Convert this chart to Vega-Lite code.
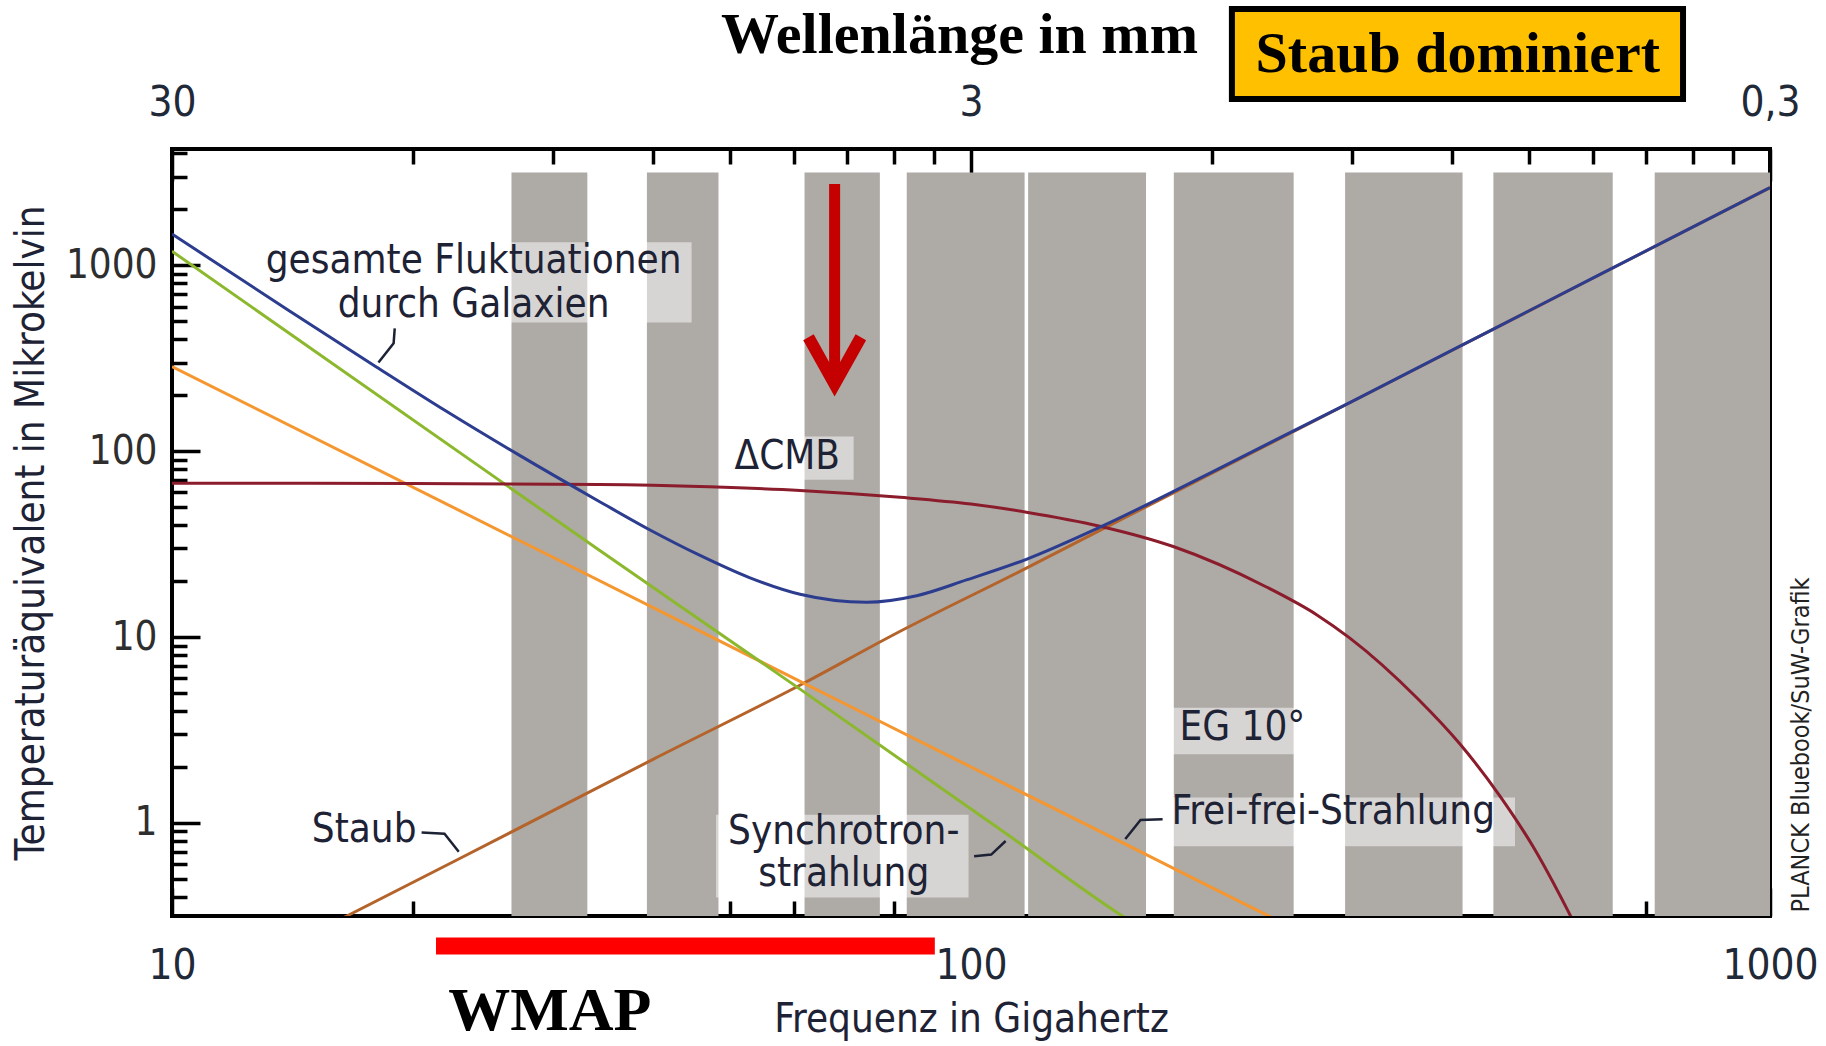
{
  "$schema": "https://vega.github.io/schema/vega-lite/v6.json",
  "width": 1598,
  "height": 767,
  "autosize": {"type": "none"},
  "padding": {"left": 172, "top": 149, "right": 56, "bottom": 130},
  "background": "white",
  "config": {
    "view": {"stroke": "#000000", "strokeWidth": 4},
    "axis": {"domain": false, "grid": false, "ticks": true, "tickColor": "#000000", "tickWidth": 3.5, "labelOverlap": false, "labelFlush": false, "zindex": 1}
  },
  "resolve": {"axis": {"x": "independent", "y": "independent"}},
  "datasets": {
    "bands": [
      {"lo": 26.6, "hi": 33.1},
      {"lo": 39.3, "hi": 48.3},
      {"lo": 61.9, "hi": 76.9},
      {"lo": 83.1, "hi": 116.7},
      {"lo": 117.9, "hi": 165.6},
      {"lo": 179.4, "hi": 253.4},
      {"lo": 293.9, "hi": 412.3},
      {"lo": 450.6, "hi": 635.6},
      {"lo": 717.3, "hi": 1000}
    ],
    "boxes": [
      {"f1": 12.8, "f2": 44.7, "T1": 492.8, "T2": 1332},
      {"f1": 49.1, "f2": 71.3, "T1": 70.3, "T2": 120},
      {"f1": 47.96, "f2": 99.3, "T1": 0.397, "T2": 1.106},
      {"f1": 177.6, "f2": 265.6, "T1": 2.34, "T2": 4.17},
      {"f1": 171.7, "f2": 479.6, "T1": 0.749, "T2": 1.373}
    ],
    "curves": [
      {"series": "1 Staub", "f": 15.0, "T": 0.255},
      {"series": "1 Staub", "f": 16.55, "T": 0.316},
      {"series": "1 Staub", "f": 22.85, "T": 0.64},
      {"series": "1 Staub", "f": 40, "T": 2.2},
      {"series": "1 Staub", "f": 62, "T": 5.7},
      {"series": "1 Staub", "f": 80, "T": 10.3},
      {"series": "1 Staub", "f": 117.3, "T": 23.5},
      {"series": "1 Staub", "f": 145, "T": 37.5},
      {"series": "1 Staub", "f": 200, "T": 76},
      {"series": "1 Staub", "f": 300, "T": 185},
      {"series": "1 Staub", "f": 450, "T": 452},
      {"series": "1 Staub", "f": 600, "T": 852},
      {"series": "1 Staub", "f": 800, "T": 1604},
      {"series": "1 Staub", "f": 1000, "T": 2615},
      {"series": "2 Frei-frei", "f": 10, "T": 285},
      {"series": "2 Frei-frei", "f": 28.7, "T": 29.5},
      {"series": "2 Frei-frei", "f": 62, "T": 5.6},
      {"series": "2 Frei-frei", "f": 100, "T": 2.0},
      {"series": "2 Frei-frei", "f": 156, "T": 0.77},
      {"series": "2 Frei-frei", "f": 236, "T": 0.316},
      {"series": "2 Frei-frei", "f": 250, "T": 0.28},
      {"series": "3 Synchrotron", "f": 10, "T": 1190},
      {"series": "3 Synchrotron", "f": 34.2, "T": 29.5},
      {"series": "3 Synchrotron", "f": 61.1, "T": 5.25},
      {"series": "3 Synchrotron", "f": 110.5, "T": 0.88},
      {"series": "3 Synchrotron", "f": 154, "T": 0.32},
      {"series": "3 Synchrotron", "f": 165, "T": 0.265},
      {"series": "4 CMB", "f": 10, "T": 67.3},
      {"series": "4 CMB", "f": 20, "T": 67.0},
      {"series": "4 CMB", "f": 34.3, "T": 66.2},
      {"series": "4 CMB", "f": 47, "T": 64.3},
      {"series": "4 CMB", "f": 61.1, "T": 61.5},
      {"series": "4 CMB", "f": 81.5, "T": 56.5},
      {"series": "4 CMB", "f": 100, "T": 52},
      {"series": "4 CMB", "f": 117.3, "T": 47},
      {"series": "4 CMB", "f": 145, "T": 39.5},
      {"series": "4 CMB", "f": 179.1, "T": 30.7},
      {"series": "4 CMB", "f": 234.3, "T": 18.6},
      {"series": "4 CMB", "f": 270.7, "T": 13.2},
      {"series": "4 CMB", "f": 297.7, "T": 9.9},
      {"series": "4 CMB", "f": 361.6, "T": 4.7},
      {"series": "4 CMB", "f": 409.5, "T": 2.65},
      {"series": "4 CMB", "f": 459, "T": 1.4},
      {"series": "4 CMB", "f": 505.8, "T": 0.74},
      {"series": "4 CMB", "f": 557, "T": 0.345},
      {"series": "4 CMB", "f": 590, "T": 0.21},
      {"series": "5 Gesamt", "f": 10, "T": 1473},
      {"series": "5 Gesamt", "f": 14, "T": 572},
      {"series": "5 Gesamt", "f": 18, "T": 285},
      {"series": "5 Gesamt", "f": 22, "T": 165},
      {"series": "5 Gesamt", "f": 27, "T": 97},
      {"series": "5 Gesamt", "f": 34.3, "T": 53.5},
      {"series": "5 Gesamt", "f": 39.6, "T": 37.8},
      {"series": "5 Gesamt", "f": 45.8, "T": 27.5},
      {"series": "5 Gesamt", "f": 52.8, "T": 20.9},
      {"series": "5 Gesamt", "f": 61.1, "T": 17.0},
      {"series": "5 Gesamt", "f": 74, "T": 15.4},
      {"series": "5 Gesamt", "f": 85.5, "T": 16.7},
      {"series": "5 Gesamt", "f": 98.7, "T": 20.3},
      {"series": "5 Gesamt", "f": 117.3, "T": 26.2},
      {"series": "5 Gesamt", "f": 145, "T": 39.0},
      {"series": "5 Gesamt", "f": 200, "T": 77},
      {"series": "5 Gesamt", "f": 300, "T": 185.5},
      {"series": "5 Gesamt", "f": 450, "T": 452.5},
      {"series": "5 Gesamt", "f": 600, "T": 853},
      {"series": "5 Gesamt", "f": 800, "T": 1605},
      {"series": "5 Gesamt", "f": 1000, "T": 2616}
    ],
    "leaders": [
      {"id": "g", "k": 1, "f": 19.0, "T": 458},
      {"id": "g", "k": 2, "f": 18.94, "T": 381},
      {"id": "g", "k": 3, "f": 18.13, "T": 300},
      {"id": "s", "k": 1, "f": 20.53, "T": 0.89},
      {"id": "s", "k": 2, "f": 21.93, "T": 0.876},
      {"id": "s", "k": 3, "f": 22.85, "T": 0.70},
      {"id": "y", "k": 1, "f": 100.9, "T": 0.662},
      {"id": "y", "k": 2, "f": 106.0, "T": 0.676},
      {"id": "y", "k": 3, "f": 110.5, "T": 0.8},
      {"id": "ff", "k": 1, "f": 156, "T": 0.82},
      {"id": "ff", "k": 2, "f": 163, "T": 1.037},
      {"id": "ff", "k": 3, "f": 173.7, "T": 1.046}
    ],
    "labels": [
      {"text": "gesamte Fluktuationen", "f": 23.85, "T": 1058},
      {"text": "durch Galaxien", "f": 23.85, "T": 612},
      {"text": "ΔCMB", "f": 58.9, "T": 92.5},
      {"text": "Synchrotron-", "f": 69.3, "T": 0.891},
      {"text": "strahlung", "f": 69.3, "T": 0.53},
      {"text": "Staub", "f": 17.4, "T": 0.917},
      {"text": "EG 10°", "f": 218.6, "T": 3.26},
      {"text": "Frei-frei-Strahlung", "f": 284, "T": 1.14}
    ]
  },
  "layer": [
    {
      "data": {"name": "bands"},
      "mark": {"type": "rect", "color": "#aeaaa6"},
      "encoding": {
        "x": {
          "field": "lo", "type": "quantitative",
          "scale": {"type": "log", "domain": [10, 1000], "nice": false},
          "axis": {
            "orient": "top",
            "values": [10, 20, 30, 40, 50, 60, 70, 80, 90, 100, 200, 300, 400, 500, 600, 700, 800, 900, 1000],
            "tickSize": {"condition": {"test": "datum.value == 10 || datum.value == 100 || datum.value == 1000", "value": -32}, "value": -15},
            "labelExpr": "datum.value == 10 ? '30' : datum.value == 100 ? '3' : datum.value == 1000 ? '0,3' : ''",
            "labelFont": "DejaVu Sans Condensed",
            "labelFontSize": 42,
            "labelColor": "#1f2937",
            "labelPadding": 79,
            "labelBaseline": "middle",
            "labelAlign": "center",
            "title": "Wellenlänge in mm",
            "titleFont": "Liberation Serif",
            "titleFontWeight": "bold",
            "titleFontSize": 58,
            "titleColor": "#000000",
            "titlePadding": 0,
            "titleX": 787
          }
        },
        "x2": {"field": "hi"},
        "y": {"datum": 3160, "type": "quantitative", "scale": {"type": "log", "domain": [0.316, 4223], "nice": false}, "axis": null},
        "y2": {"datum": 0.316}
      }
    },
    {
      "data": {"name": "boxes"},
      "mark": {"type": "rect", "color": "#ffffff", "opacity": 0.5},
      "encoding": {
        "x": {"field": "f1", "type": "quantitative", "scale": {"type": "log", "domain": [10, 1000], "nice": false}, "axis": null},
        "x2": {"field": "f2"},
        "y": {"field": "T1", "type": "quantitative", "scale": {"type": "log", "domain": [0.316, 4223], "nice": false}, "axis": null},
        "y2": {"field": "T2"}
      }
    },
    {
      "data": {"name": "curves"},
      "mark": {"type": "line", "strokeWidth": 3, "interpolate": "monotone", "clip": true},
      "encoding": {
        "x": {
          "field": "f", "type": "quantitative",
          "scale": {"type": "log", "domain": [10, 1000], "nice": false},
          "axis": {
            "orient": "bottom",
            "values": [10, 20, 30, 40, 50, 60, 70, 80, 90, 100, 200, 300, 400, 500, 600, 700, 800, 900, 1000],
            "tickSize": {"condition": {"test": "datum.value == 10 || datum.value == 100 || datum.value == 1000", "value": -28}, "value": -15},
            "labelExpr": "datum.value == 10 ? '10' : datum.value == 100 ? '100' : datum.value == 1000 ? '1000' : ''",
            "labelFont": "DejaVu Sans Condensed",
            "labelFontSize": 42,
            "labelColor": "#1f2937",
            "labelPadding": 77,
            "labelBaseline": "middle",
            "labelAlign": "center",
            "title": "Frequenz in Gigahertz",
            "titleFont": "DejaVu Sans Condensed",
            "titleFontWeight": "normal",
            "titleFontSize": 40,
            "titleColor": "#1e2235",
            "titlePadding": 0
          }
        },
        "y": {
          "field": "T", "type": "quantitative",
          "scale": {"type": "log", "domain": [0.316, 4223], "nice": false},
          "axis": {
            "orient": "left",
            "values": [0.4, 0.5, 0.6, 0.7, 0.8, 0.9, 1, 2, 3, 4, 5, 6, 7, 8, 9, 10, 20, 30, 40, 50, 60, 70, 80, 90, 100, 200, 300, 400, 500, 600, 700, 800, 900, 1000, 2000, 3000, 4000],
            "tickSize": {"condition": {"test": "datum.value == 1 || datum.value == 10 || datum.value == 100 || datum.value == 1000", "value": -28}, "value": -15},
            "labelExpr": "datum.value == 1 ? '1' : datum.value == 10 ? '10' : datum.value == 100 ? '100' : datum.value == 1000 ? '1000' : ''",
            "labelFont": "DejaVu Sans Condensed",
            "labelFontSize": 40,
            "labelColor": "#2e2e2e",
            "labelPadding": 43,
            "labelAlign": "right",
            "labelBaseline": "middle",
            "title": "Temperaturäquivalent in Mikrokelvin",
            "titleFont": "DejaVu Sans Condensed",
            "titleFontWeight": "normal",
            "titleFontSize": 40,
            "titleColor": "#1e2235",
            "titlePadding": 14
          }
        },
        "color": {
          "field": "series", "type": "nominal",
          "scale": {"domain": ["1 Staub", "2 Frei-frei", "3 Synchrotron", "4 CMB", "5 Gesamt"], "range": ["#b4642a", "#f5962e", "#8cb82e", "#8b1c2c", "#2c3c8e"]},
          "legend": null
        }
      }
    },
    {
      "data": {"values": [{"f": 67.5, "T1": 2740, "T2": 260}]},
      "mark": {"type": "rule", "color": "#c40000", "strokeWidth": 11, "strokeCap": "butt"},
      "encoding": {
        "x": {"field": "f", "type": "quantitative", "scale": {"type": "log", "domain": [10, 1000], "nice": false}, "axis": null},
        "y": {"field": "T1", "type": "quantitative", "scale": {"type": "log", "domain": [0.316, 4223], "nice": false}, "axis": null},
        "y2": {"field": "T2"}
      }
    },
    {
      "data": {"values": [{"f": 62.6, "T": 410}, {"f": 67.5, "T": 229.5}, {"f": 72.8, "T": 410}]},
      "mark": {"type": "line", "color": "#c40000", "strokeWidth": 12, "strokeJoin": "miter", "strokeCap": "butt"},
      "encoding": {
        "x": {"field": "f", "type": "quantitative", "scale": {"type": "log", "domain": [10, 1000], "nice": false}, "axis": null},
        "y": {"field": "T", "type": "quantitative", "scale": {"type": "log", "domain": [0.316, 4223], "nice": false}, "axis": null}
      }
    },
    {
      "data": {"name": "leaders"},
      "mark": {"type": "line", "color": "#1e2235", "strokeWidth": 2.5},
      "encoding": {
        "x": {"field": "f", "type": "quantitative", "scale": {"type": "log", "domain": [10, 1000], "nice": false}, "axis": null},
        "y": {"field": "T", "type": "quantitative", "scale": {"type": "log", "domain": [0.316, 4223], "nice": false}, "axis": null},
        "detail": {"field": "id"},
        "order": {"field": "k"}
      }
    },
    {
      "data": {"name": "labels"},
      "mark": {"type": "text", "font": "DejaVu Sans Condensed", "fontSize": 40, "color": "#1e2235", "align": "center", "baseline": "middle"},
      "encoding": {
        "x": {"field": "f", "type": "quantitative", "scale": {"type": "log", "domain": [10, 1000], "nice": false}, "axis": null},
        "y": {"field": "T", "type": "quantitative", "scale": {"type": "log", "domain": [0.316, 4223], "nice": false}, "axis": null},
        "text": {"field": "text"}
      }
    },
    {
      "data": {"values": [{"f1": 21.4, "f2": 90.1, "T": 0.2176}]},
      "mark": {"type": "rule", "color": "#ff0000", "strokeWidth": 17, "strokeCap": "butt"},
      "encoding": {
        "x": {"field": "f1", "type": "quantitative", "scale": {"type": "log", "domain": [10, 1000], "nice": false}, "axis": null},
        "x2": {"field": "f2"},
        "y": {"field": "T", "type": "quantitative", "scale": {"type": "log", "domain": [0.316, 4223], "nice": false}, "axis": null}
      }
    },
    {
      "data": {"values": [{"text": "WMAP", "f": 29.7, "T": 0.098}]},
      "mark": {"type": "text", "font": "Liberation Serif", "fontWeight": "bold", "fontSize": 62, "color": "#000000", "align": "center", "baseline": "middle"},
      "encoding": {
        "x": {"field": "f", "type": "quantitative", "scale": {"type": "log", "domain": [10, 1000], "nice": false}, "axis": null},
        "y": {"field": "T", "type": "quantitative", "scale": {"type": "log", "domain": [0.316, 4223], "nice": false}, "axis": null},
        "text": {"field": "text"}
      }
    },
    {
      "data": {"values": [{"f1": 212.1, "f2": 778.3, "T1": 7850, "T2": 23920}]},
      "mark": {"type": "rect", "fill": "#ffc000", "stroke": "#000000", "strokeWidth": 6},
      "encoding": {
        "x": {"field": "f1", "type": "quantitative", "scale": {"type": "log", "domain": [10, 1000], "nice": false}, "axis": null},
        "x2": {"field": "f2"},
        "y": {"field": "T1", "type": "quantitative", "scale": {"type": "log", "domain": [0.316, 4223], "nice": false}, "axis": null},
        "y2": {"field": "T2"}
      }
    },
    {
      "data": {"values": [{"text": "Staub dominiert", "f": 406.7, "T": 13570}]},
      "mark": {"type": "text", "font": "Liberation Serif", "fontWeight": "bold", "fontSize": 58, "color": "#000000", "align": "center", "baseline": "middle"},
      "encoding": {
        "x": {"field": "f", "type": "quantitative", "scale": {"type": "log", "domain": [10, 1000], "nice": false}, "axis": null},
        "y": {"field": "T", "type": "quantitative", "scale": {"type": "log", "domain": [0.316, 4223], "nice": false}, "axis": null},
        "text": {"field": "text"}
      }
    },
    {
      "data": {"values": [{"text": "PLANCK Bluebook/SuW-Grafik", "f": 1095, "T": 2.63}]},
      "mark": {"type": "text", "font": "DejaVu Sans Condensed", "fontSize": 25, "color": "#222222", "align": "center", "baseline": "middle", "angle": 270},
      "encoding": {
        "x": {"field": "f", "type": "quantitative", "scale": {"type": "log", "domain": [10, 1000], "nice": false}, "axis": null},
        "y": {"field": "T", "type": "quantitative", "scale": {"type": "log", "domain": [0.316, 4223], "nice": false}, "axis": null},
        "text": {"field": "text"}
      }
    }
  ]
}
